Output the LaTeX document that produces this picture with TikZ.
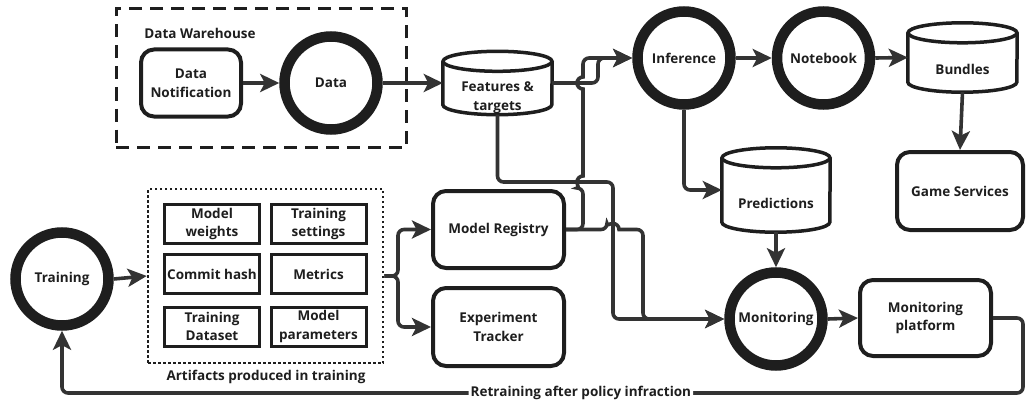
\documentclass[tikz,border=0pt]{standalone}
\usepackage{fontspec}
\setmainfont{Open Sans}
\usetikzlibrary{arrows.meta,calc}
\definecolor{ink}{HTML}{1E1E1E}
\definecolor{wirec}{HTML}{333333}
\newcommand\drawcyl[2]{%
  \draw[cylline] ($(#1.north west)+(0,10)$) -- ($(#1.south west)+(0,-10)$)
     arc[start angle=180,end angle=360,x radius=#2pt,y radius=10pt]
     -- ($(#1.north east)+(0,10)$);
  \draw[cylline] ($(#1.north)+(0,10)$) ellipse[x radius=#2pt,y radius=10pt];}
\begin{document}
\begin{tikzpicture}[x=1pt,y=-1pt,
 every node/.style={font=\fontsize{13.5}{18.5}\selectfont\bfseries, text=ink, align=center},
 rbox/.style={draw=ink, line width=4pt, rounded corners=13pt, inner sep=0pt},
 abox/.style={draw=ink, line width=3pt, inner sep=0pt, minimum width=95pt, minimum height=39pt},
 ring/.style={draw=ink, circle, line width=10.5pt, inner sep=0pt, minimum size=93pt},
 cylnode/.style={inner sep=0pt},
 cylline/.style={draw=ink, line width=3.5pt},
 wire/.style={draw=wirec, line width=3.6pt, rounded corners=6pt, -{Stealth[length=19pt,width=18pt,inset=4.5pt]}},
]
\useasboundingbox (0,0) rectangle (1028,404);
% warehouse
\node[draw=ink, line width=3pt, dash pattern=on 13pt off 8pt, minimum width=290pt, minimum height=139pt, inner sep=0pt] (dw) at (261,78) {};
\node (dwl) at (200,33) {Data Warehouse};
\node[rbox, minimum width=100pt, minimum height=67pt] (dn) at (191,83) {Data\\Notification};
\node[ring] (data) at (331,83) {Data};
% cylinders
\node[cylnode, minimum width=109pt, minimum height=63pt, label={[yshift=-14.5pt]center:Features \&\\targets}] (feat) at (497.5,83) {};
\node[cylnode, minimum width=109pt, minimum height=69pt, label={[yshift=-11.5pt]center:Bundles}] (bund) at (962.5,57.5) {};
\node[cylnode, minimum width=108pt, minimum height=84pt, label={[yshift=-13pt]center:Predictions}] (pred) at (776,190) {};
\drawcyl{feat}{54.5}
\drawcyl{bund}{54.5}
\drawcyl{pred}{54}
% circles
\node[ring] (inf) at (684,58) {Inference};
\node[ring] (nb) at (823.5,58) {Notebook};
\node[ring] (train) at (62,279) {Training};
\node[ring] (mon) at (776,319) {Monitoring};
% boxes
\node[rbox, minimum width=126pt, minimum height=78pt] (gs) at (960,191) {Game Services};
\node[rbox, minimum width=131pt, minimum height=76pt] (monp) at (925.5,318) {Monitoring\\platform};
\node[rbox, minimum width=131pt, minimum height=77pt] (mreg) at (498.5,229.5) {Model Registry};
\node[rbox, minimum width=131pt, minimum height=78pt] (exp) at (498.5,327) {Experiment\\Tracker};
% artifacts
\node[draw=ink, line width=2.5pt, dash pattern=on 2.5pt off 2.5pt, minimum width=235pt, minimum height=174pt, inner sep=0pt] (art) at (265.5,276) {};
\node (artl) at (266,377) {Artifacts produced in training};
\node[abox] (a1) at (212,224) {Model\\weights};
\node[abox] (a2) at (318.5,224) {Training\\settings};
\node[abox] (a3) at (212,274) {Commit hash};
\node[abox] (a4) at (318.5,274) {Metrics};
\node[abox] (a5) at (212,326.5) {Training\\Dataset};
\node[abox] (a6) at (318.5,326.5) {Model\\parameters};
% connectors
\draw[wire] (dn.east) -- (data.west);
\draw[wire] (data.east) -- (feat.west);
\draw[wire] (feat.east) -- (598,83) -- (598,58) -- (inf.west);
\draw[wire] (mreg.east) -- (583,229.5) -- (583,188) [sharp corners] arc[start angle=270,end angle=90,radius=6pt] -- (583,89) arc[start angle=270,end angle=90,radius=6pt] [rounded corners=6pt] -- (583,58) -- (inf.west);
\draw[wire] (mreg.east) -- (607,229.5) [sharp corners] arc[start angle=180,end angle=0,radius=6pt] [rounded corners=6pt] -- (643,229.5) -- (643,319) -- (mon.west);
\draw[wire] (feat.south) -- (497.5,182) -- (613,182) -- (613,319) -- (mon.west);
\draw[wire] (inf.south) -- (684,190) -- (pred.west);
\draw[wire] (pred.south) -- (mon.north);
\draw[wire] (inf.east) -- (nb.west);
\draw[wire] (nb.east) -- (bund.west);
\draw[wire] (bund.south) -- (gs.north);
\draw[wire] (mon.east) -- (monp.west);
\draw[wire] (monp.east) -- (1023,318) -- (1023,393) -- node[pos=0.46, fill=white, inner sep=2pt] (rl) {Retraining after policy infraction} (62,393) -- (train.south);
\draw[wire] (train.east) -- (art.west);
\draw[wire] (art.east) -- (398,276) -- (398,229.5) -- (mreg.west);
\draw[wire] (art.east) -- (398,276) -- (398,327) -- (exp.west);
\end{tikzpicture}
\end{document}
